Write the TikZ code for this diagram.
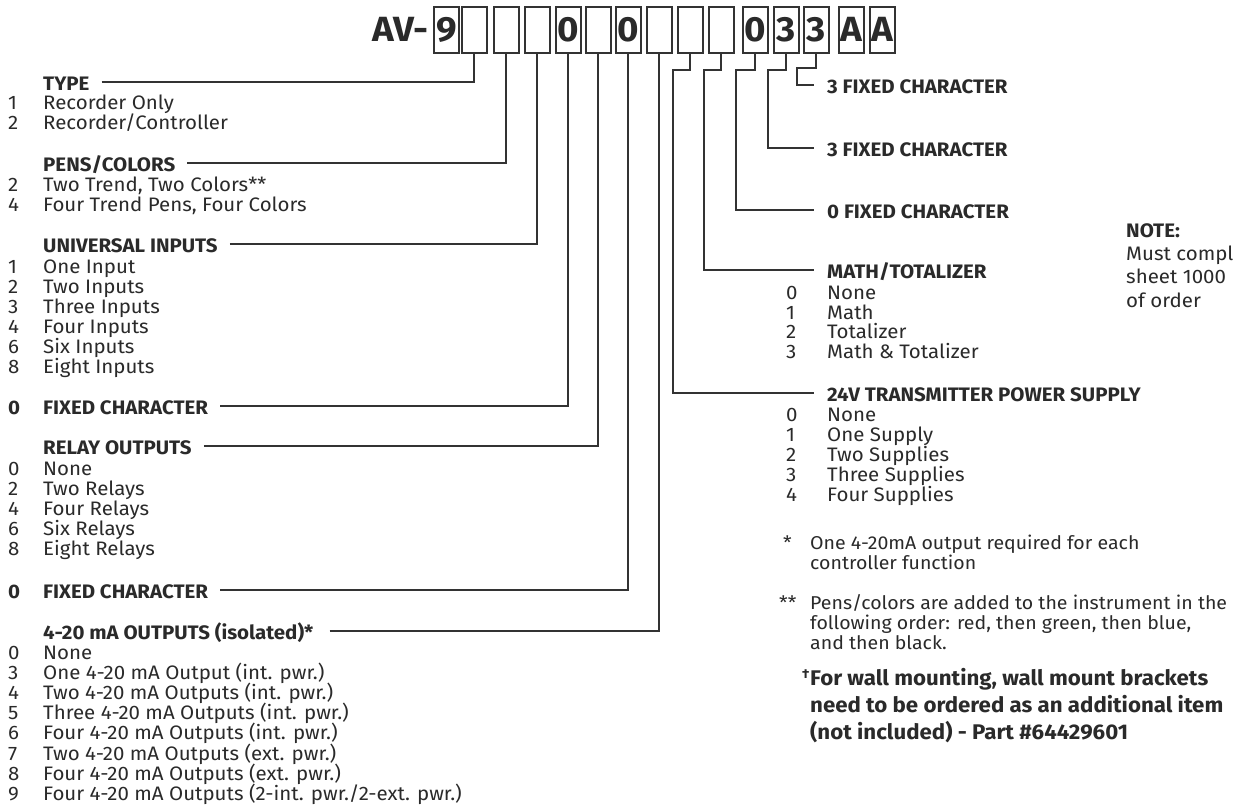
\documentclass[tikz,border=0pt]{standalone}
\usepackage{fontspec}
\setmainfont{Fira Sans}[FakeStretch=1.05]
\usetikzlibrary{calc}
\definecolor{ink}{HTML}{2A2A2A}
\definecolor{wirecol}{HTML}{333333}
\tikzset{
  txt/.style={anchor=base west, inner sep=0pt, text=ink, font=\fontsize{19.5}{21}\selectfont},
  fn/.style={anchor=base west, inner sep=0pt, text=ink, font=\fontsize{18.6}{21}\selectfont},
  head/.style={anchor=base west, inner sep=0pt, text=ink, font=\fontsize{19.5}{21}\selectfont\bfseries},
  bigtxt/.style={anchor=base west, inner sep=0pt, text=ink, font=\fontsize{21.2}{24}\selectfont\bfseries},
  digbox/.style={draw=wirecol, line width=1.6pt, fill=white, minimum width=25pt, minimum height=46pt, inner sep=0pt, anchor=north west, text=ink, font=\fontsize{35}{35}\selectfont\bfseries},
  wire/.style={draw=wirecol, line width=1.8pt},
}
\begin{document}
\begin{tikzpicture}[x=1pt,y=-1pt]
\useasboundingbox (0,0) rectangle (1233,805);
\fill[white] (0,0) rectangle (1233,805);

% header
\node[anchor=base west, inner sep=0pt, text=ink, font=\fontsize{35}{35}\selectfont\bfseries] (av) at (372,42) {AV-};
\node[digbox] (b1) at (433,6) {9};
\node[digbox] (b2) at (461,6) {};
\node[digbox] (b3) at (493,6) {};
\node[digbox] (b4) at (524,6) {};
\node[digbox] (b5) at (555,6) {0};
\node[digbox] (b6) at (585,6) {};
\node[digbox] (b7) at (615,6) {0};
\node[digbox] (b8) at (646,6) {};
\node[digbox] (b9) at (677,6) {};
\node[digbox] (b10) at (708,6) {};
\node[digbox] (b11) at (742,6) {0};
\node[digbox] (b12) at (773,6) {3};
\node[digbox] (b13) at (803,6) {3};
\node[digbox] (b14) at (838,6) {A};
\node[digbox] (b15) at (869,6) {A};

% ---------- left column ----------
\node[head] (type) at (43,90.5) {TYPE};
\foreach [count=\k] \n/\t in {1/{Recorder Only}, 2/{Recorder/Controller}}
  {\node[txt] (ty\k n) at (8,{109.5+20*(\k-1)}) {\n};
   \node[txt] (ty\k) at (43,{109.5+20*(\k-1)}) {\t};}

\node[head] (pens) at (43,171.5) {PENS/COLORS};
\foreach [count=\k] \n/\t in {2/{Two Trend, Two Colors**}, 4/{Four Trend Pens, Four Colors}}
  {\node[txt] (pc\k n) at (8,{191.5+20*(\k-1)}) {\n};
   \node[txt] (pc\k) at (43,{191.5+20*(\k-1)}) {\t};}

\node[head] (univ) at (43,252.5) {UNIVERSAL INPUTS};
\foreach [count=\k] \n/\t in {1/{One Input}, 2/{Two Inputs}, 3/{Three Inputs}, 4/{Four Inputs}, 6/{Six Inputs}, 8/{Eight Inputs}}
  {\node[txt] (ui\k n) at (8,{273.5+20*(\k-1)}) {\n};
   \node[txt] (ui\k) at (43,{273.5+20*(\k-1)}) {\t};}

\node[head] (fcan) at (8,414.5) {0};
\node[head] (fca) at (43,414.5) {FIXED CHARACTER};

\node[head] (relay) at (43,454.5) {RELAY OUTPUTS};
\foreach [count=\k] \n/\t in {0/{None}, 2/{Two Relays}, 4/{Four Relays}, 6/{Six Relays}, 8/{Eight Relays}}
  {\node[txt] (ro\k n) at (8,{475.5+20*(\k-1)}) {\n};
   \node[txt] (ro\k) at (43,{475.5+20*(\k-1)}) {\t};}

\node[head] (fcbn) at (8,598.5) {0};
\node[head] (fcb) at (43,598.5) {FIXED CHARACTER};

\node[head] (ma) at (43,639.5) {4-20 mA OUTPUTS (isolated)*};
\foreach [count=\k] \n/\t in {0/{None}, 3/{One 4-20 mA Output (int. pwr.)}, 4/{Two 4-20 mA Outputs (int. pwr.)}, 5/{Three 4-20 mA Outputs (int. pwr.)}, 6/{Four 4-20 mA Outputs (int. pwr.)}, 7/{Two 4-20 mA Outputs (ext. pwr.)}, 8/{Four 4-20 mA Outputs (ext. pwr.)}, 9/{Four 4-20 mA Outputs (2-int. pwr./2-ext. pwr.)}}
  {\node[txt] (mo\k n) at (8,{659.5+20.1*(\k-1)}) {\n};
   \node[txt] (mo\k) at (43,{659.5+20.1*(\k-1)}) {\t};}

% left connectors
\draw[wire] ($(type.base east)+(12,-8.5)$) -| (b2.south);
\draw[wire] ($(pens.base east)+(12,-8.5)$) -| (b3.south);
\draw[wire] ($(univ.base east)+(12,-8.5)$) -| (b4.south);
\draw[wire] ($(fca.base east)+(12,-8.5)$) -| (b5.south);
\draw[wire] ($(relay.base east)+(12,-8.5)$) -| (b6.south);
\draw[wire] ($(fcb.base east)+(12,-8.5)$) -| (b7.south);
\draw[wire] ($(ma.base east)+(16,-8.5)$) -| (b8.south);

% ---------- right column ----------
\node[head] (fc3a) at (827,93.5) {3 FIXED CHARACTER};
\node[head] (fc3b) at (827,156.5) {3 FIXED CHARACTER};
\node[head] (fc0) at (827,218.5) {0 FIXED CHARACTER};
\node[head] (math) at (827,278.5) {MATH/TOTALIZER};
\foreach [count=\k] \n/\t in {0/{None}, 1/{Math}, 2/{Totalizer}, 3/{Math \& Totalizer}}
  {\node[txt] (mt\k n) at (786,{299.5+19.7*(\k-1)}) {\n};
   \node[txt] (mt\k) at (827,{299.5+19.7*(\k-1)}) {\t};}
\node[head] (psu) at (827,401.5) {24V TRANSMITTER POWER SUPPLY};
\foreach [count=\k] \n/\t in {0/{None}, 1/{One Supply}, 2/{Two Supplies}, 3/{Three Supplies}, 4/{Four Supplies}}
  {\node[txt] (ps\k n) at (786,{421.5+20*(\k-1)}) {\n};
   \node[txt] (ps\k) at (827,{421.5+20*(\k-1)}) {\t};}

\coordinate (j13) at (797,68);
\coordinate (j12) at (768,70);
\coordinate (j11) at (736,70);
\coordinate (j10) at (704,70);
\coordinate (j9) at (673,70);
\draw[wire] (b13.south) |- (j13) |- ($(fc3a.base west)+(-13,-8.5)$);
\draw[wire] (b12.south) |- (j12) |- ($(fc3b.base west)+(-13,-8.5)$);
\draw[wire] (b11.south) |- (j11) |- ($(fc0.base west)+(-13,-8.5)$);
\draw[wire] (b10.south) |- (j10) |- ($(math.base west)+(-13,-8.5)$);
\draw[wire] (b9.south) |- (j9) |- ($(psu.base west)+(-13,-8.5)$);

% note
\node[head] (note) at (1126,237.5) {NOTE:};
\node[txt] (note1) at (1126,260.5) {Must comple};
\node[txt] (note2) at (1126,283.5) {sheet 1000};
\node[txt] (note3) at (1126,307.5) {of order};

% footnotes
\node[fn] (fn1m) at (783,549.5) {*};
\node[fn] (fn1a) at (810,549.5) {One 4-20mA output required for each};
\node[fn] (fn1b) at (810,569.5) {controller function};
\node[fn] (fn2m) at (779,609.5) {**};
\node[fn] (fn2a) at (810,609.5) {Pens/colors are added to the instrument in the};
\node[fn] (fn2b) at (810,629.5) {following order: red, then green, then blue,};
\node[fn] (fn2c) at (810,649.5) {and then black.};

\node[anchor=base west, inner sep=0pt, text=ink, font=\fontsize{13}{13}\selectfont\bfseries] (dag) at (802,678) {†};
\node[bigtxt] (wm1) at (810,685.5) {For wall mounting, wall mount brackets};
\node[bigtxt] (wm2) at (810,712.5) {need to be ordered as an additional item};
\node[bigtxt] (wm3) at (810,739.5) {(not included) - Part \#64429601};
\end{tikzpicture}
\end{document}
